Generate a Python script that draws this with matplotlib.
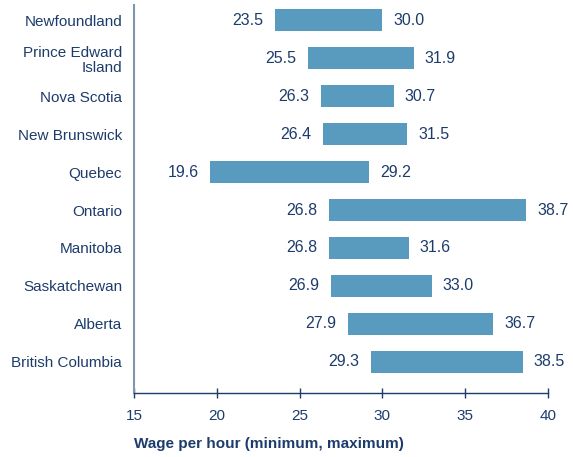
import matplotlib.pyplot as plt

plt.rcParams['font.family'] = ['Liberation Sans', 'DejaVu Sans']

provinces = ['Newfoundland', 'Prince Edward\nIsland', 'Nova Scotia', 'New Brunswick',
             'Quebec', 'Ontario', 'Manitoba', 'Saskatchewan', 'Alberta', 'British Columbia']
wage_min = [23.5, 25.5, 26.3, 26.4, 19.6, 26.8, 26.8, 26.9, 27.9, 29.3]
wage_max = [30.0, 31.9, 30.7, 31.5, 29.2, 38.7, 31.6, 33.0, 36.7, 38.5]

navy = '#1d3c6b'
bar_color = '#589bbf'

fig = plt.figure(figsize=(5.73, 4.57), dpi=100)
ax = fig.add_axes([134/573, 64/457, 414/573, 388/457])

y = list(range(len(provinces)))
widths = [b - a for a, b in zip(wage_min, wage_max)]
ax.barh(y, widths, left=wage_min, height=0.58, color=bar_color)

for yi, lo, hi in zip(y, wage_min, wage_max):
    ax.text(lo - 0.7, yi, f'{lo:.1f}', ha='right', va='center', fontsize=11.5, color=navy)
    ax.text(hi + 0.65, yi, f'{hi:.1f}', ha='left', va='center', fontsize=11.5, color=navy)

ax.set_xlim(15, 40)
ax.set_ylim(9.816, -0.395)
ax.set_xticks([15, 20, 25, 30, 35, 40])
ax.set_yticks(y)
ax.set_yticklabels(provinces, fontsize=11, color=navy, linespacing=1.15, multialignment='right')
ax.tick_params(axis='y', length=0, pad=8.5)
ax.tick_params(axis='x', direction='inout', length=7, width=1, color=navy,
               labelcolor=navy, labelsize=11, pad=8)

for s in ['top', 'right']:
    ax.spines[s].set_visible(False)
ax.spines['left'].set_color('#7f95b0')
ax.spines['left'].set_linewidth(1.5)
ax.spines['bottom'].set_color(navy)
ax.spines['bottom'].set_linewidth(1)

ax.set_xlabel('Wage per hour (minimum, maximum)', fontsize=11, fontweight='bold',
              color=navy, loc='left', labelpad=10)

fig.savefig('out.png', dpi=100)
